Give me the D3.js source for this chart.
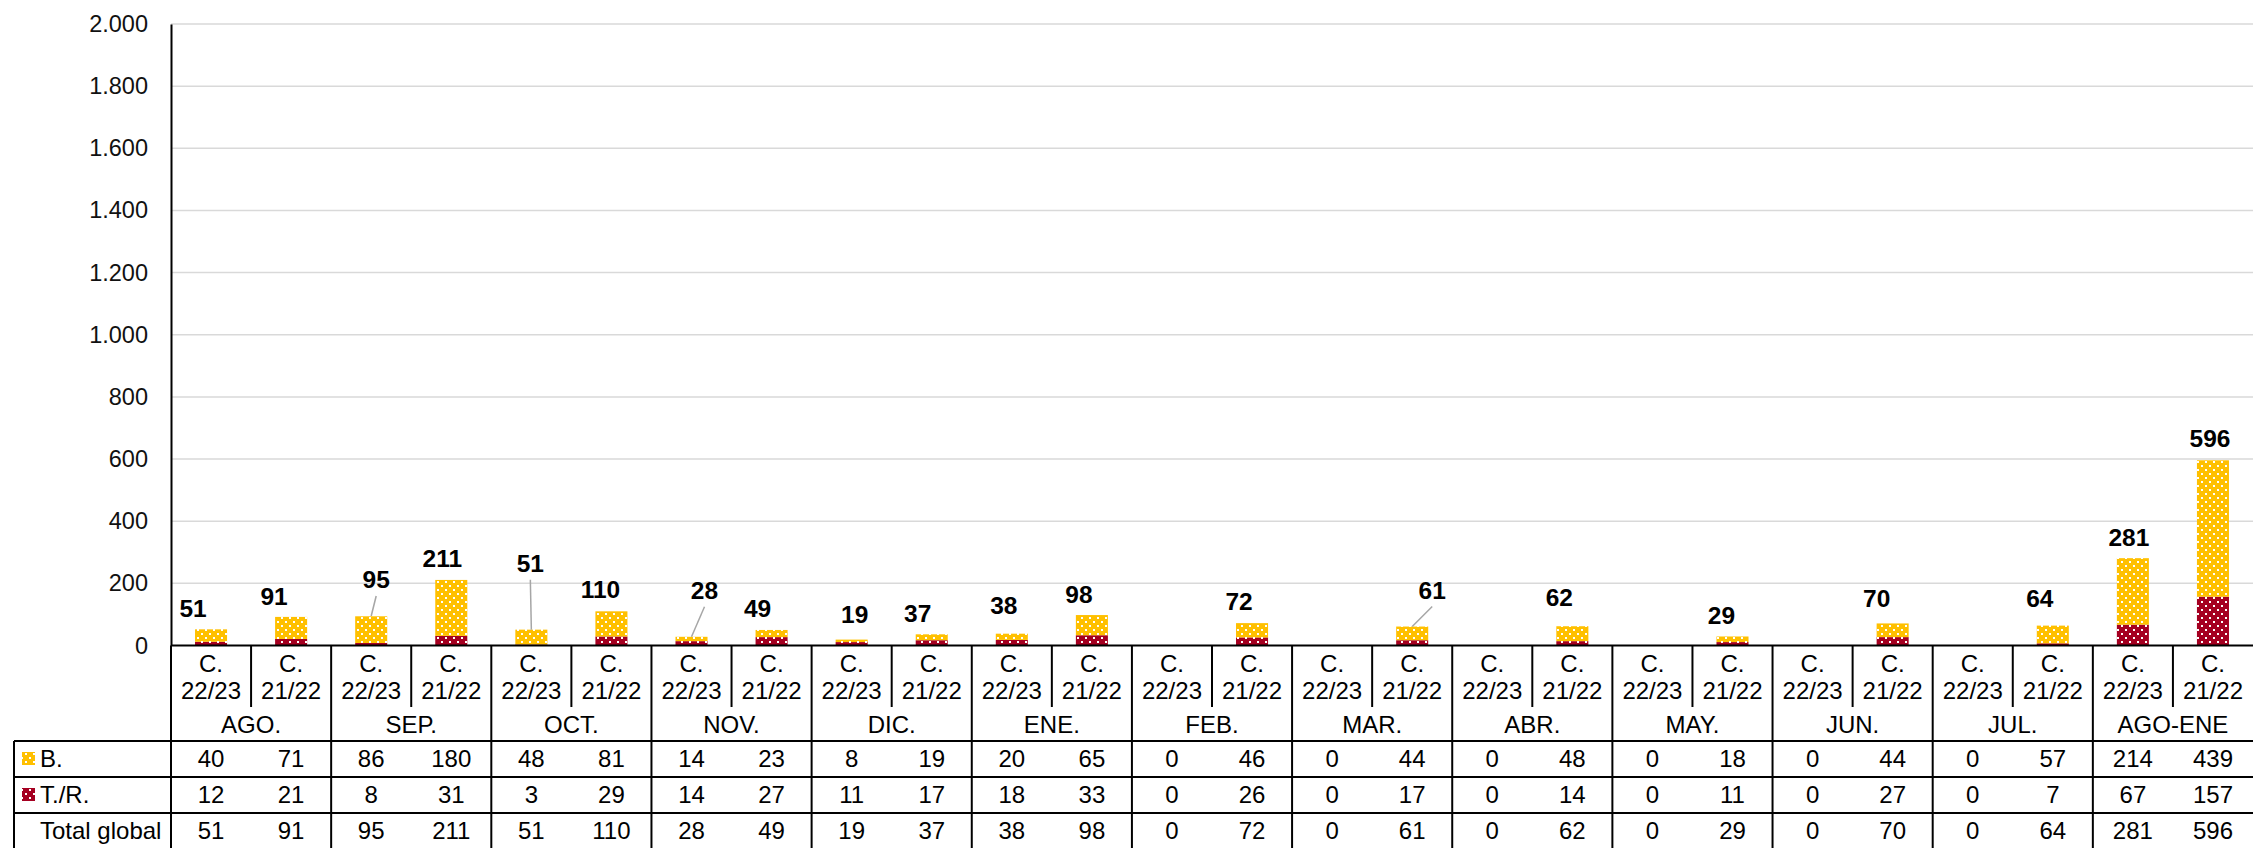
<!DOCTYPE html>
<html>
<head>
<meta charset="utf-8">
<script src="https://cdn.jsdelivr.net/npm/d3@7"></script>
<style>
    body { margin: 0; background: #fff; }
    text { font-family: "Liberation Sans", Arial, sans-serif; fill: #000; }
</style>
</head>
<body>
<script>
//data
var months = ["AGO.", "SEP.", "OCT.", "NOV.", "DIC.", "ENE.", "FEB.", "MAR.", "ABR.", "MAY.", "JUN.", "JUL.", "AGO-ENE"];
var seasons = ["22/23", "21/22"];
var valuesB = [40, 71, 86, 180, 48, 81, 14, 23, 8, 19, 20, 65, 0, 46, 0, 44, 0, 48, 0, 18, 0, 44, 0, 57, 214, 439];
var valuesTR = [12, 21, 8, 31, 3, 29, 14, 27, 11, 17, 18, 33, 0, 26, 0, 17, 0, 14, 0, 11, 0, 27, 0, 7, 67, 157];
var totals = [51, 91, 95, 211, 51, 110, 28, 49, 19, 37, 38, 98, 0, 72, 0, 61, 0, 62, 0, 29, 0, 70, 0, 64, 281, 596];
var yTicks = [0, 200, 400, 600, 800, 1000, 1200, 1400, 1600, 1800, 2000];

//where excel left the total labels (offset from bar centre / bar top), and which have leader lines
var labelNudge = [[-18, -13], [-17, -12], [5, -28], [-9, -13], [-1, -58], [-11, -13], [13, -38], [-14, -13],
    [3, -17], [-14, -12], [-8, -20], [-13, -12], [0, 0], [-13, -13], [0, 0], [20, -28], [0, 0], [-13, -20],
    [0, 0], [-11, -12], [0, 0], [-16, -17], [0, 0], [-13, -19], [-4, -12], [-3, -13]];
var leaders = [2, 4, 6, 15];

window.onload = function(){

    var w = 2253, h = 848;
    var left = 171, top = 24, bottom = 645.5;

    var svg = d3.select("body")
        .append("svg")
        .attr("width", w)
        .attr("height", h);

    //dotted fill patterns
    var defs = svg.append("defs");
    [["patB", "#FFC000"], ["patTR", "#A50021"]].forEach(function(p){
        var pat = defs.append("pattern")
            .attr("id", p[0])
            .attr("width", 8)
            .attr("height", 8)
            .attr("patternUnits", "userSpaceOnUse");
        pat.append("rect").attr("width", 8).attr("height", 8).style("fill", p[1]);
        pat.append("rect").attr("x", 1).attr("y", 1).attr("width", 2).attr("height", 2).style("fill", "#fff");
        pat.append("rect").attr("x", 5).attr("y", 5).attr("width", 2).attr("height", 2).style("fill", "#fff");
    });

    //one column per bar
    var cols = d3.range(totals.length);
    var x = d3.scaleBand()
        .domain(cols)
        .range([left, w]);

    var y = d3.scaleLinear()
        .domain([0, 2000])
        .range([bottom, top]);

    var fmt = d3.formatLocale({decimal: ",", thousands: ".", grouping: [3], currency: ["", ""]}).format(",");

    //gridlines
    svg.append("g")
        .selectAll("line")
        .data(yTicks.slice(1))
        .enter()
        .append("line")
        .attr("x1", left)
        .attr("x2", w)
        .attr("y1", function(d){ return y(d); })
        .attr("y2", function(d){ return y(d); })
        .style("stroke", "#d9d9d9")
        .style("stroke-width", 1.5);

    //y axis
    var yAxis = d3.axisLeft(y)
        .tickValues(yTicks)
        .tickSize(0)
        .tickPadding(23)
        .tickFormat(fmt);

    var axis = svg.append("g")
        .attr("transform", "translate(" + left + ",0)")
        .call(yAxis);
    axis.select(".domain").style("stroke", "#000").style("stroke-width", 2);
    axis.selectAll("text")
        .style("font-size", "23.5px")
        .style("font-family", "Liberation Sans, Arial, sans-serif")
        .style("fill", "#111");

    //bars, T./R. at the bottom, B. stacked on top
    var barW = x.bandwidth() * 0.4;
    var bars = svg.append("g");
    bars.selectAll(".tr")
        .data(cols)
        .enter()
        .append("rect")
        .attr("class", "tr")
        .attr("x", function(i){ return x(i) + (x.bandwidth() - barW) / 2; })
        .attr("width", barW)
        .attr("y", function(i){ return y(valuesTR[i]); })
        .attr("height", function(i){ return y(0) - y(valuesTR[i]); })
        .style("fill", "url(#patTR)");

    bars.selectAll(".b")
        .data(cols)
        .enter()
        .append("rect")
        .attr("class", "b")
        .attr("x", function(i){ return x(i) + (x.bandwidth() - barW) / 2; })
        .attr("width", barW)
        .attr("y", function(i){ return y(valuesTR[i] + valuesB[i]); })
        .attr("height", function(i){ return y(valuesTR[i]) - y(valuesTR[i] + valuesB[i]); })
        .style("fill", "url(#patB)");

    //total labels
    var shown = cols.filter(function(i){ return totals[i] > 0; });
    function lx(i){ return x(i) + x.bandwidth() / 2 + labelNudge[i][0]; }
    function ly(i){ return y(totals[i]) + labelNudge[i][1]; }

    svg.append("g")
        .selectAll("line")
        .data(leaders)
        .enter()
        .append("line")
        .attr("x1", function(i){ return lx(i); })
        .attr("y1", function(i){ return ly(i) + 8; })
        .attr("x2", function(i){ return x(i) + x.bandwidth() / 2; })
        .attr("y2", function(i){ return y(totals[i]); })
        .style("stroke", "#a6a6a6")
        .style("stroke-width", 1.5);

    svg.append("g")
        .selectAll("text")
        .data(shown)
        .enter()
        .append("text")
        .attr("x", lx)
        .attr("y", ly)
        .attr("text-anchor", "middle")
        .style("font-size", "24.5px")
        .style("font-weight", "bold")
        .text(function(i){ return fmt(totals[i]); });

    //data table under the plot
    var rowTop = 741, rowH = 36;
    var table = svg.append("g").style("stroke", "#000").style("stroke-width", 2);

    //plot bottom line
    table.append("line").attr("x1", left).attr("x2", w).attr("y1", bottom).attr("y2", bottom);

    //column dividers: short ones inside a month, long ones between months
    table.selectAll(".vdiv")
        .data(cols)
        .enter()
        .append("line")
        .attr("class", "vdiv")
        .attr("x1", function(i){ return x(i); })
        .attr("x2", function(i){ return x(i); })
        .attr("y1", bottom)
        .attr("y2", function(i){ return i % 2 ? 707 : h; });

    //row lines
    table.selectAll(".hdiv")
        .data([0, 1, 2])
        .enter()
        .append("line")
        .attr("x1", 14)
        .attr("x2", w)
        .attr("y1", function(r){ return rowTop + r * rowH; })
        .attr("y2", function(r){ return rowTop + r * rowH; });
    table.append("line").attr("x1", 14).attr("x2", 14).attr("y1", rowTop).attr("y2", h);

    //column headers
    var head = svg.append("g").style("font-size", "24px").attr("text-anchor", "middle");
    head.selectAll(".c1")
        .data(cols)
        .enter()
        .append("text")
        .attr("x", function(i){ return x(i) + x.bandwidth() / 2; })
        .attr("y", 672)
        .text("C.");
    head.selectAll(".c2")
        .data(cols)
        .enter()
        .append("text")
        .attr("x", function(i){ return x(i) + x.bandwidth() / 2; })
        .attr("y", 699)
        .text(function(i){ return seasons[i % 2]; });
    head.selectAll(".m")
        .data(months)
        .enter()
        .append("text")
        .attr("x", function(d, k){ return x(k * 2) + x.bandwidth(); })
        .attr("y", 733)
        .text(function(d){ return d; });

    //table rows
    var rows = [
        {name: "B.", key: "url(#patB)", vals: valuesB},
        {name: "T./R.", key: "url(#patTR)", vals: valuesTR},
        {name: "Total global", key: null, vals: totals}
    ];
    rows.forEach(function(r, k){
        var base = rowTop + k * rowH + 26;
        var g = svg.append("g").style("font-size", "24px");
        if (r.key) {
            g.append("rect")
                .attr("x", 22)
                .attr("y", base - 15)
                .attr("width", 13)
                .attr("height", 13)
                .style("fill", r.key);
        }
        g.append("text")
            .attr("x", 40)
            .attr("y", base)
            .text(r.name);
        g.selectAll(".v")
            .data(cols)
            .enter()
            .append("text")
            .attr("x", function(i){ return x(i) + x.bandwidth() / 2; })
            .attr("y", base)
            .attr("text-anchor", "middle")
            .text(function(i){ return fmt(r.vals[i]); });
    });
};
</script>
</body>
</html>
